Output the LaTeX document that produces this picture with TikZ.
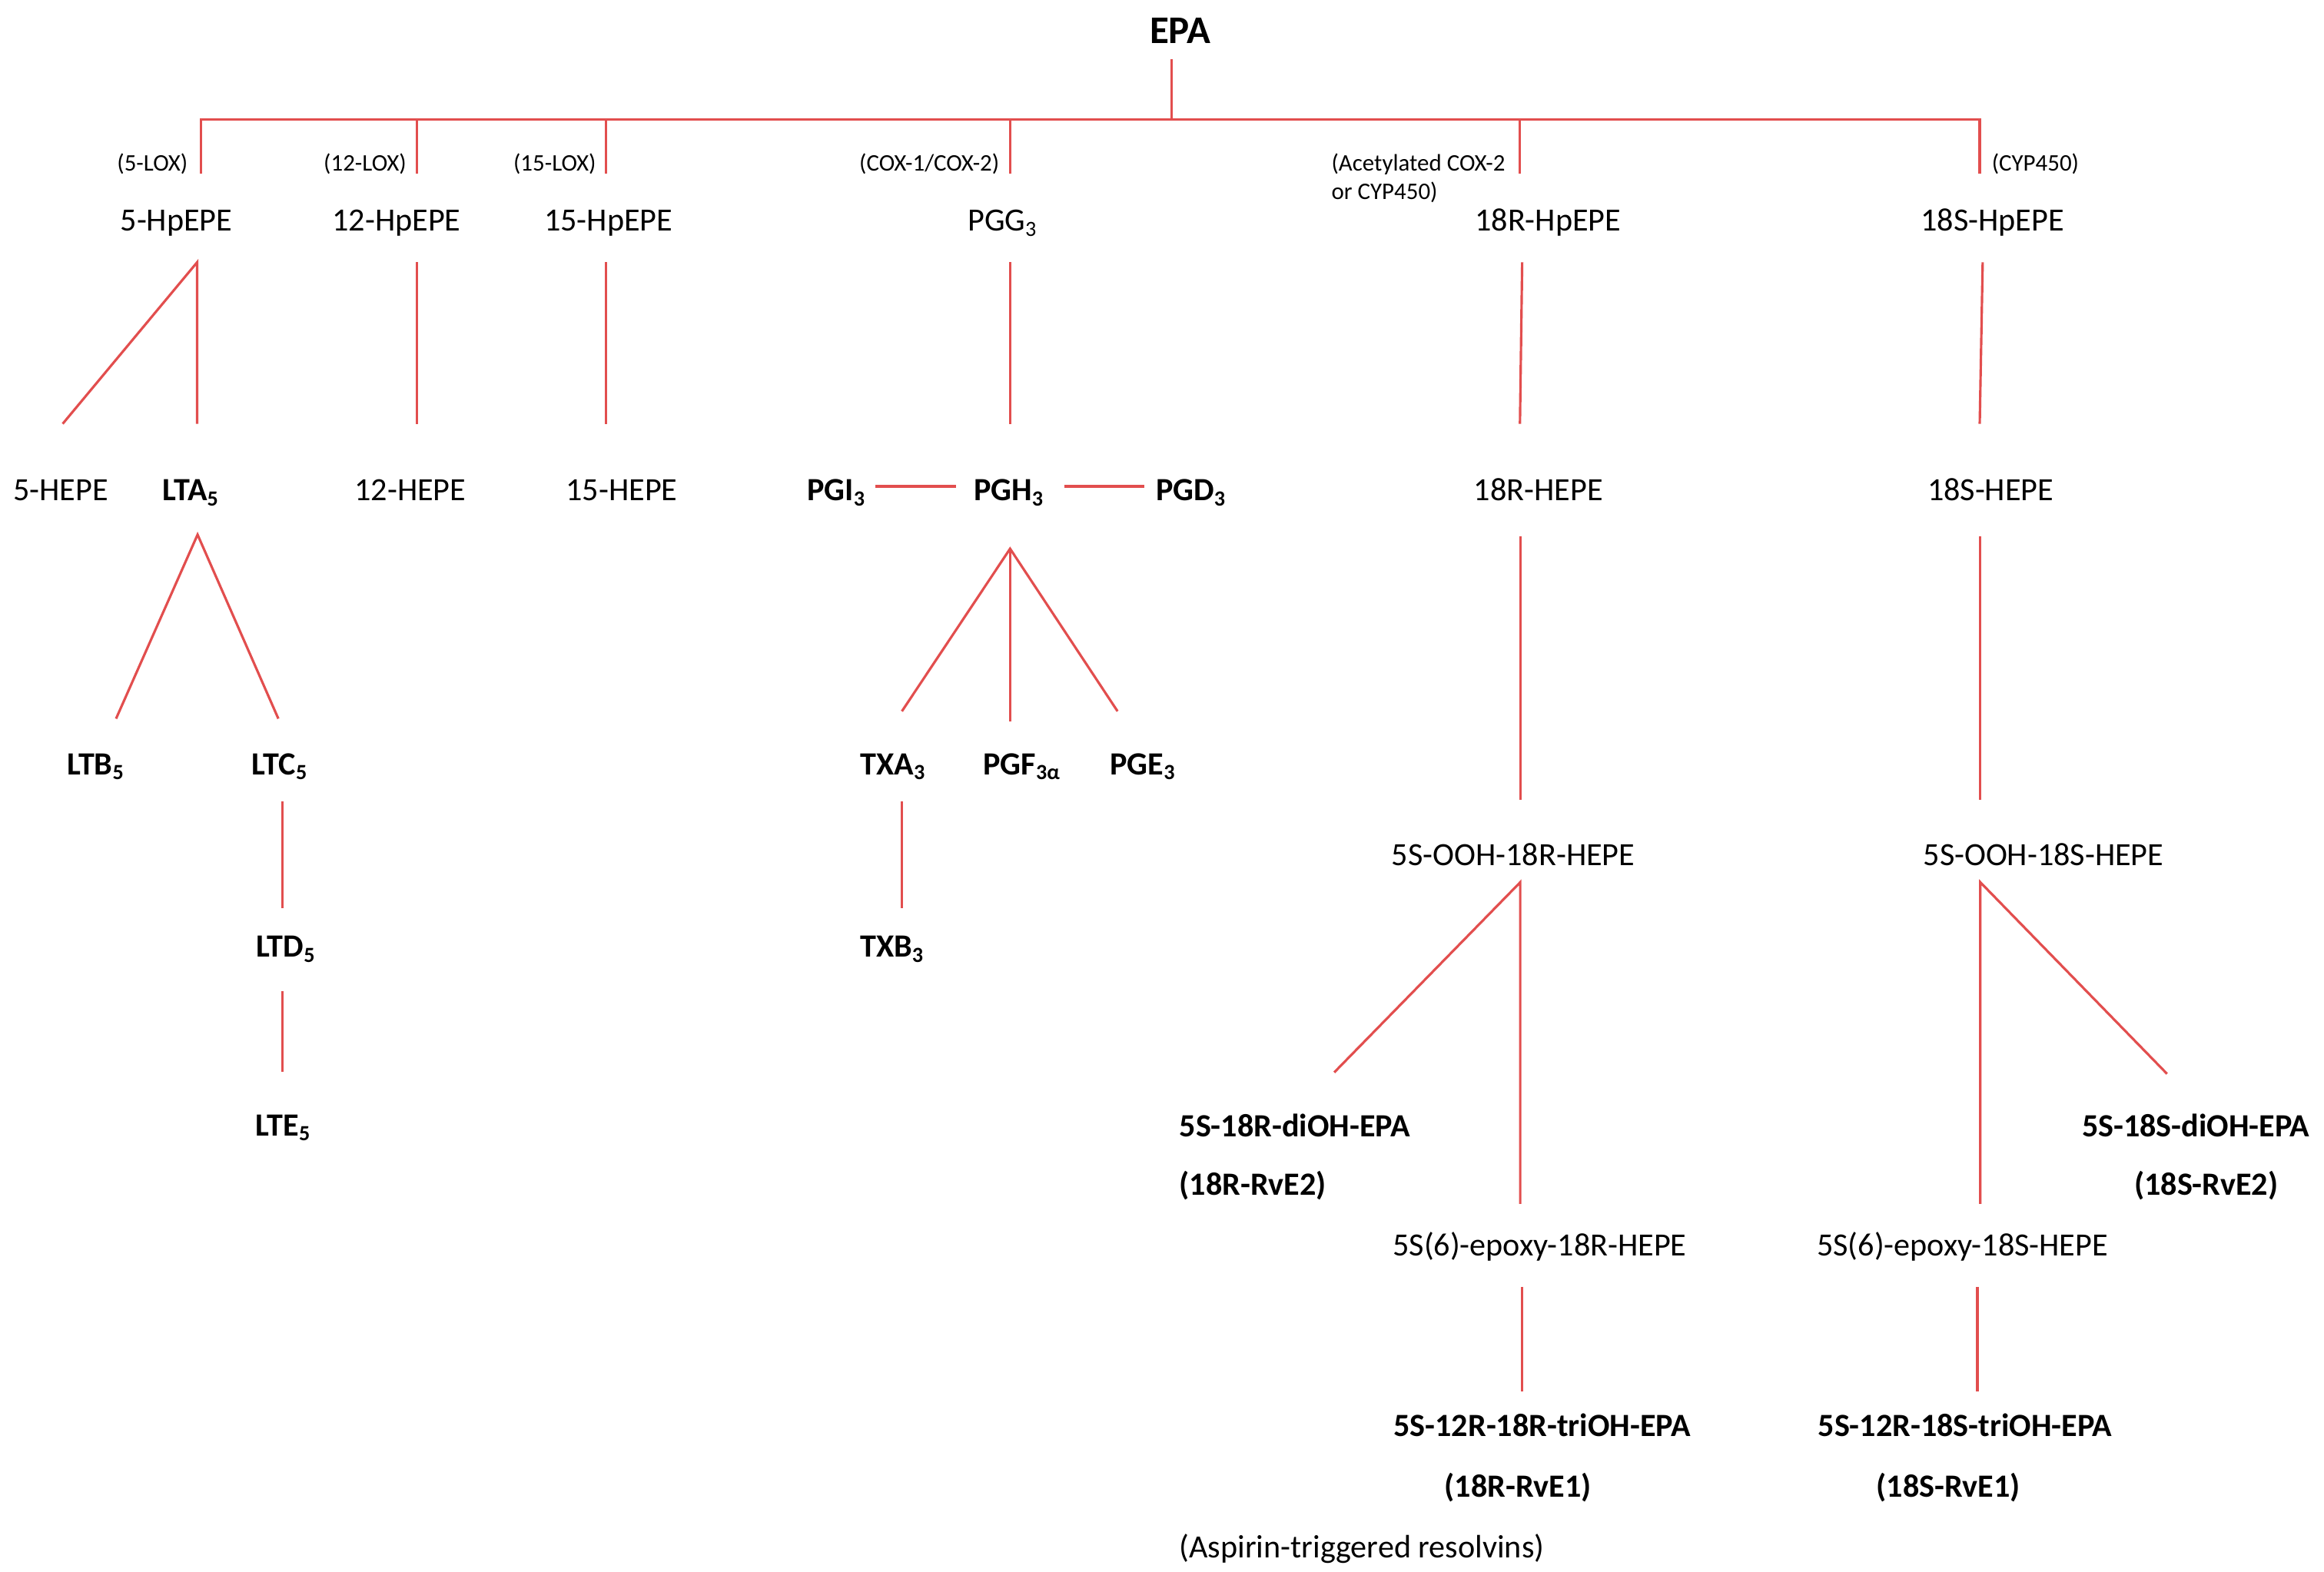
\documentclass[tikz,border=0pt]{standalone}
\usepackage{fontspec}
\setmainfont{Carlito}
\definecolor{linkred}{RGB}{226,78,78}
\tikzset{%
  link/.style={draw=linkred, line width=0.9pt},
  chem/.style={anchor=base, inner sep=0pt, font=\fontsize{12}{14}\selectfont},
  chemb/.style={chem, font=\fontsize{12}{14}\selectfont\bfseries},
  enz/.style={anchor=base, inner sep=0pt, font=\fontsize{8.8}{10.5}\selectfont},
}

\begin{document}
\begin{tikzpicture}[x=0.019286cm,y=-0.019286cm]
  \useasboundingbox (0,0) rectangle (1568,1060.4);
  % texts
  \node[chemb, font=\fontsize{14.5}{17}\selectfont\bfseries] (epa) at (796.3,29.3) {EPA};
  \node[enz, anchor=base east] (lox5) at (127,115.2) {(5-LOX)};
  \node[enz, anchor=base east] (lox12) at (274.5,115.2) {(12-LOX)};
  \node[enz, anchor=base east] (lox15) at (402.5,115.2) {(15-LOX)};
  \node[enz, anchor=base east] (cox) at (674.6,115.2) {(COX-1/COX-2)};
  \node[enz, anchor=base west] (acox) at (898,115.2) {(Acetylated COX-2};
  \node[enz, anchor=base west] (acoxb) at (898,134.8) {or CYP450)};
  \node[enz, anchor=base west] (cyp) at (1343.5,115.2) {(CYP450)};

  \node[chem] (hp5) at (119,156) {5-HpEPE};
  \node[chem] (hp12) at (267.5,156) {12-HpEPE};
  \node[chem] (hp15) at (410.5,156) {15-HpEPE};
  \node[chem] (pgg) at (676.5,156) {PGG\textsubscript{3}};
  \node[chem] (hp18r) at (1044.4,156) {18R-HpEPE};
  \node[chem] (hp18s) at (1344.3,156) {18S-HpEPE};

  \node[chem] (hepe5) at (41,338) {5-HEPE};
  \node[chemb] (lta) at (129,338) {LTA\textsubscript{5}};
  \node[chem] (hepe12) at (276.8,338) {12-HEPE};
  \node[chem] (hepe15) at (419.5,338) {15-HEPE};
  \node[chemb] (pgi) at (564.5,338) {PGI\textsubscript{3}};
  \node[chemb] (pgh) at (680.8,338) {PGH\textsubscript{3}};
  \node[chemb] (pgd) at (803.7,338) {PGD\textsubscript{3}};
  \node[chem] (hepe18r) at (1038,338) {18R-HEPE};
  \node[chem] (hepe18s) at (1343,338) {18S-HEPE};

  \node[chemb] (ltb) at (64.8,523) {LTB\textsubscript{5}};
  \node[chemb] (ltc) at (189,523) {LTC\textsubscript{5}};
  \node[chemb] (txa) at (602.6,523) {TXA\textsubscript{3}};
  \node[chemb] (pgf) at (689.7,523) {PGF\textsubscript{3α}};
  \node[chemb] (pge) at (771.2,523) {PGE\textsubscript{3}};
  \node[chemb] (ltd) at (193,646) {LTD\textsubscript{5}};
  \node[chemb] (txb) at (602,646) {TXB\textsubscript{3}};
  \node[chemb] (lte) at (191.3,766.6) {LTE\textsubscript{5}};

  \node[chem] (ooh18r) at (1021,584.3) {5S-OOH-18R-HEPE};
  \node[chem] (ooh18s) at (1378.7,584.3) {5S-OOH-18S-HEPE};
  \node[chemb, anchor=base west] (di18r) at (795.4,767) {5S-18R-diOH-EPA};
  \node[chemb, anchor=base west] (rve2r) at (795.4,806.4) {(18R-RvE2)};
  \node[chemb] (di18s) at (1481.5,767) {5S-18S-diOH-EPA};
  \node[chemb] (rve2s) at (1488.5,806.4) {(18S-RvE2)};
  \node[chem] (ep18r) at (1038.8,847.5) {5S(6)-epoxy-18R-HEPE};
  \node[chem] (ep18s) at (1324,847.5) {5S(6)-epoxy-18S-HEPE};
  \node[chemb] (tri18r) at (1040.5,969.2) {5S-12R-18R-triOH-EPA};
  \node[chemb] (tri18s) at (1325.8,969.2) {5S-12R-18S-triOH-EPA};
  \node[chemb] (rve1r) at (1024.2,1010.4) {(18R-RvE1)};
  \node[chemb] (rve1s) at (1314.5,1010.4) {(18S-RvE1)};
  \node[chem, anchor=base west] (asp) at (795.4,1051.5) {(Aspirin-triggered resolvins)};

  % line ends
  \coordinate (E) at (790.3,39.8);
  \coordinate (Eb) at (790.3,80.5);
  \coordinate (t1) at (135.6,80.5);
  \coordinate (t2) at (281.4,80.5);
  \coordinate (t3) at (408.7,80.5);
  \coordinate (t4) at (681.5,80.5);
  \coordinate (t5) at (1025.4,80.5);
  \coordinate (t6) at (1335.7,80.5);
  \coordinate (d1) at (135.6,117);
  \coordinate (d2) at (281.4,117);
  \coordinate (d3) at (408.7,117);
  \coordinate (d4) at (681.5,117);
  \coordinate (d5) at (1025.4,117);
  \coordinate (d6) at (1335.7,117);

  \coordinate (hp5s) at (133,177);
  \coordinate (hepe5n) at (42.3,286);
  \coordinate (ltan) at (133,286);
  \coordinate (hp12s) at (281.4,177);
  \coordinate (hepe12n) at (281.4,286);
  \coordinate (hp15s) at (408.7,177);
  \coordinate (hepe15n) at (408.7,286);
  \coordinate (pggs) at (681.5,177);
  \coordinate (pghn) at (681.5,286);
  \coordinate (hp18rs) at (1027,177);
  \coordinate (hepe18rn) at (1025.5,286);
  \coordinate (hp18ss) at (1337.7,177);
  \coordinate (hepe18sn) at (1335.7,286);

  \coordinate (pgie) at (590.6,328.2);
  \coordinate (pghw) at (644.8,328.2);
  \coordinate (pghe) at (717.9,328.2);
  \coordinate (pgdw) at (772.1,328.2);

  \coordinate (ltas) at (133.3,360.8);
  \coordinate (ltbn) at (78.3,485);
  \coordinate (ltcn) at (187.8,485);
  \coordinate (pghs) at (681.5,370.3);
  \coordinate (txan) at (608.5,480);
  \coordinate (pgfn) at (681.5,486.7);
  \coordinate (pgen) at (754,480);
  \coordinate (ltcs) at (190.5,541);
  \coordinate (ltdn) at (190.5,613);
  \coordinate (ltds) at (190.5,668.8);
  \coordinate (lten) at (190.5,723.3);
  \coordinate (txas) at (608.5,541);
  \coordinate (txbn) at (608.5,613);

  \coordinate (hepe18rs) at (1026,362);
  \coordinate (ooh18rn) at (1026,540);
  \coordinate (hepe18ss) at (1336,362);
  \coordinate (ooh18sn) at (1336,540);
  \coordinate (ooh18rs) at (1025.7,595.4);
  \coordinate (di18rn) at (900.2,723.7);
  \coordinate (ep18rn) at (1025.7,812.5);
  \coordinate (ooh18ss) at (1336.1,595.4);
  \coordinate (di18sn) at (1462.1,724.7);
  \coordinate (ep18sn) at (1336.1,812.5);
  \coordinate (ep18rs) at (1026.7,868.5);
  \coordinate (tri18rn) at (1026.7,939.2);
  \coordinate (ep18ss) at (1334.1,868.5);
  \coordinate (tri18sn) at (1334.1,939.2);

  % EPA branches
  \draw[link] (E) -- (Eb);
  \draw[link] (d1) -- (t1) -- (t6) -- (d6);
  \draw[link] (t2) -- (d2);
  \draw[link] (t3) -- (d3);
  \draw[link] (t4) -- (d4);
  \draw[link] (t5) -- (d5);

  % first steps
  \draw[link] (hepe5n) -- (hp5s) -- (ltan);
  \draw[link] (hp12s) -- (hepe12n);
  \draw[link] (hp15s) -- (hepe15n);
  \draw[link] (pggs) -- (pghn);
  \draw[link] (hp18rs) -- (hepe18rn);
  \draw[link] (hp18ss) -- (hepe18sn);
  \draw[link] (pgie) -- (pghw);
  \draw[link] (pghe) -- (pgdw);

  % leukotrienes and prostanoids
  \draw[link] (ltbn) -- (ltas) -- (ltcn);
  \draw[link] (ltcs) -- (ltdn);
  \draw[link] (ltds) -- (lten);
  \draw[link] (txan) -- (pghs) -- (pgen);
  \draw[link] (pghs) -- (pgfn);
  \draw[link] (txas) -- (txbn);

  % resolvins
  \draw[link] (hepe18rs) -- (ooh18rn);
  \draw[link] (hepe18ss) -- (ooh18sn);
  \draw[link] (di18rn) -- (ooh18rs) -- (ep18rn);
  \draw[link] (di18sn) -- (ooh18ss) -- (ep18sn);
  \draw[link] (ep18rs) -- (tri18rn);
  \draw[link] (ep18ss) -- (tri18sn);
\end{tikzpicture}
\end{document}
